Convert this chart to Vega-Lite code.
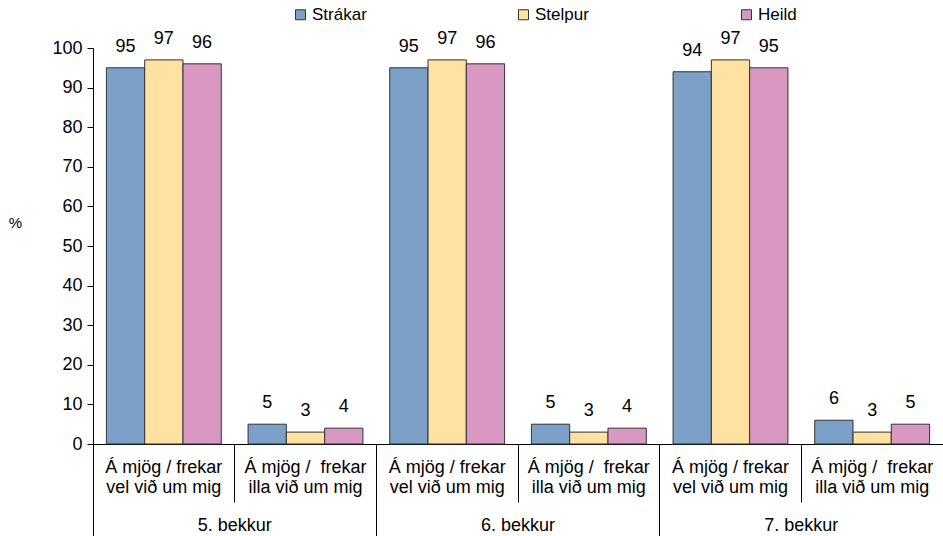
{
  "$schema": "https://vega.github.io/schema/vega-lite/v6.json",
  "autosize": "none",
  "width": 850,
  "height": 396,
  "padding": {"left": 93, "top": 48, "right": 0, "bottom": 92},
  "background": "white",
  "config": {"view": {"stroke": null}, "font": "Liberation Sans"},
  "data": {
    "values": [
      {"cat": "5a", "grade": "5. bekkur", "series": "Strákar", "value": 95},
      {"cat": "5a", "grade": "5. bekkur", "series": "Stelpur", "value": 97},
      {"cat": "5a", "grade": "5. bekkur", "series": "Heild", "value": 96},
      {"cat": "5b", "grade": "5. bekkur", "series": "Strákar", "value": 5},
      {"cat": "5b", "grade": "5. bekkur", "series": "Stelpur", "value": 3},
      {"cat": "5b", "grade": "5. bekkur", "series": "Heild", "value": 4},
      {"cat": "6a", "grade": "6. bekkur", "series": "Strákar", "value": 95},
      {"cat": "6a", "grade": "6. bekkur", "series": "Stelpur", "value": 97},
      {"cat": "6a", "grade": "6. bekkur", "series": "Heild", "value": 96},
      {"cat": "6b", "grade": "6. bekkur", "series": "Strákar", "value": 5},
      {"cat": "6b", "grade": "6. bekkur", "series": "Stelpur", "value": 3},
      {"cat": "6b", "grade": "6. bekkur", "series": "Heild", "value": 4},
      {"cat": "7a", "grade": "7. bekkur", "series": "Strákar", "value": 94},
      {"cat": "7a", "grade": "7. bekkur", "series": "Stelpur", "value": 97},
      {"cat": "7a", "grade": "7. bekkur", "series": "Heild", "value": 95},
      {"cat": "7b", "grade": "7. bekkur", "series": "Strákar", "value": 6},
      {"cat": "7b", "grade": "7. bekkur", "series": "Stelpur", "value": 3},
      {"cat": "7b", "grade": "7. bekkur", "series": "Heild", "value": 5}
    ]
  },
  "layer": [
    {
      "encoding": {
        "x": {
          "field": "cat",
          "type": "nominal",
          "sort": null,
          "scale": {"paddingInner": 0, "paddingOuter": 0},
          "axis": {
            "orient": "bottom",
            "title": null,
            "bandPosition": 0,
            "tickSize": 58,
            "labelPadding": -44,
            "labelAngle": 0,
            "labelFontSize": 18,
            "labelLineHeight": 20,
            "labelColor": "#000",
            "labelBaseline": "top",
            "labelExpr": "slice(datum.value, 1) == 'a' ? ['Á mjög / frekar', 'vel við um mig'] : ['Á mjög /\u00a0 frekar', 'illa við um mig']",
            "domainColor": "#000",
            "tickColor": "#000"
          }
        },
        "xOffset": {
          "field": "series",
          "sort": ["Strákar", "Stelpur", "Heild"],
          "scale": {"paddingInner": 0, "paddingOuter": 0.35}
        },
        "y": {
          "field": "value",
          "type": "quantitative",
          "scale": {"domain": [0, 100], "nice": false},
          "axis": {
            "values": [0, 10, 20, 30, 40, 50, 60, 70, 80, 90, 100],
            "grid": false,
            "tickSize": 6,
            "labelPadding": 5,
            "labelFontSize": 18,
            "labelColor": "#000",
            "domainColor": "#000",
            "tickColor": "#000",
            "title": "%",
            "titleAngle": 0,
            "titleX": -78,
            "titleY": 174,
            "titleAlign": "center",
            "titleBaseline": "middle",
            "titleFontWeight": "normal",
            "titleFontSize": 15,
            "titleColor": "#000"
          }
        }
      },
      "layer": [
        {
          "mark": {"type": "bar", "stroke": "#333", "strokeWidth": 1},
          "encoding": {
            "color": {
              "field": "series",
              "type": "nominal",
              "sort": ["Strákar", "Stelpur", "Heild"],
              "scale": {"domain": ["Strákar", "Stelpur", "Heild"], "range": ["#7BA1C9", "#FFE1A1", "#D898C2"]},
              "legend": {
                "orient": "none",
                "legendX": 199,
                "legendY": -42,
                "direction": "horizontal",
                "columns": 3,
                "gridAlign": "all",
                "columnPadding": 148,
                "padding": 0,
                "title": null,
                "symbolType": "square",
                "symbolSize": 100,
                "symbolStrokeColor": "#333",
                "symbolStrokeWidth": 1,
                "symbolOpacity": 1,
                "labelFontSize": 17,
                "labelOffset": 3,
                "labelColor": "#000"
              }
            }
          }
        },
        {
          "mark": {"type": "text", "baseline": "middle", "dy": -21, "fontSize": 18, "color": "#000"},
          "encoding": {"text": {"field": "value", "type": "quantitative"}}
        }
      ]
    },
    {
      "mark": {"type": "point", "opacity": 0},
      "encoding": {
        "x": {
          "field": "grade",
          "type": "nominal",
          "sort": null,
          "scale": {"type": "band", "paddingInner": 0, "paddingOuter": 0},
          "axis": {
            "orient": "bottom",
            "title": null,
            "bandPosition": 0,
            "tickSize": 92,
            "labelPadding": -20,
            "labelAngle": 0,
            "labelFontSize": 18,
            "labelColor": "#000",
            "labelBaseline": "top",
            "domain": false,
            "tickColor": "#000"
          }
        }
      }
    }
  ],
  "resolve": {"scale": {"x": "independent"}, "axis": {"x": "independent"}}
}
